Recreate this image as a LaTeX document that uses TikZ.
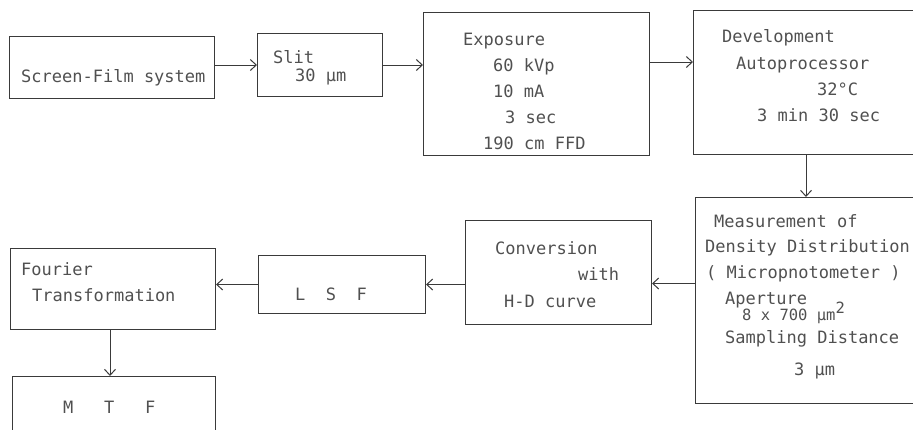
\documentclass[tikz,border=0pt]{standalone}
\usepackage{fontspec}
\setmonofont{DejaVu Sans Mono}
\usetikzlibrary{arrows.meta}
\definecolor{ink}{HTML}{3A3A3A}
\definecolor{txt}{HTML}{505050}
\begin{document}
\begin{tikzpicture}[x=1pt,y=-1pt,
  box/.style={draw=ink,line width=1pt,inner sep=0pt,anchor=north west},
  lbl/.style={anchor=base west,inner sep=0pt,text=txt,font=\ttfamily\fontsize{17}{20}\selectfont},
  arr/.style={draw=ink,line width=1pt,-{Straight Barb[length=6pt,width=11pt]}}]
\useasboundingbox (0,0) rectangle (913,429);
\clip (0,0) rectangle (913,429);
% boxes
\node[box,minimum width=205pt,minimum height=62pt] (sfs) at (9,36) {};
\node[box,minimum width=125pt,minimum height=63pt] (slit) at (257,33) {};
\node[box,minimum width=226pt,minimum height=143pt] (exp) at (423,12) {};
\node[box,minimum width=260pt,minimum height=144pt] (dev) at (693,10) {};
\node[box,minimum width=260pt,minimum height=206pt] (meas) at (695,197) {};
\node[box,minimum width=186pt,minimum height=104pt] (conv) at (465,220) {};
\node[box,minimum width=167pt,minimum height=58pt] (lsf) at (258,255) {};
\node[box,minimum width=205pt,minimum height=81pt] (four) at (10,248) {};
\node[box,minimum width=203pt,minimum height=80pt] (mtf) at (12,376) {};
% texts
\node[lbl] (t1) at (21,82) {Screen-Film system};
\node[lbl] (t2) at (273,63) {Slit};
\node[lbl] (t3) at (295,81) {30 µm};
\node[lbl] (t4) at (463,45) {Exposure};
\node[lbl] (t5) at (493,71) {60 kVp};
\node[lbl] (t6) at (493,97) {10 mA};
\node[lbl] (t7) at (505,123) {3 sec};
\node[lbl] (t8) at (483,149) {190 cm FFD};
\node[lbl] (t9) at (722,42) {Development};
\node[lbl] (t10) at (736,69) {Autoprocessor};
\node[lbl] (t11) at (817,95) {32°C};
\node[lbl] (t12) at (757,121) {3 min 30 sec};
\node[lbl] (t13) at (714,227) {Measurement of};
\node[lbl] (t14) at (705,252) {Density Distribution};
\node[lbl] (t15) at (706,278) {( Micropnotometer )};
\node[lbl] (t16) at (725,304) {Aperture};
\node[lbl,font=\ttfamily\fontsize{15.5}{18}\selectfont] (t17) at (742,320) {8 x 700 µm\raisebox{7pt}{2}};
\node[lbl] (t18) at (725,343) {Sampling Distance};
\node[lbl] (t19) at (794,375) {3 µm};
\node[lbl] (t20) at (495,254) {Conversion};
\node[lbl] (t21) at (578,280) {with};
\node[lbl] (t22) at (504,307) {H-D curve};
\node[lbl] (t23) at (295,300) {L~~S~~F};
\node[lbl] (t24) at (21,275) {Fourier};
\node[lbl] (t25) at (32,301) {Transformation};
\node[lbl] (t26) at (63,413) {M~~~T~~~F};
% connectors
\draw[arr] (slit.west -| sfs.east) -- (slit.west);
\draw[arr] (slit.east) -- (slit.east -| exp.west);
\coordinate (c3) at ([yshift=22pt]exp.east);
\draw[arr] (c3) -- (c3 -| dev.west);
\coordinate (c4) at ([xshift=113pt]dev.south west);
\draw[arr] (c4) -- (c4 |- meas.north);
\coordinate (c5) at ([yshift=-11pt]conv.east);
\draw[arr] (meas.west |- c5) -- (c5);
\draw[arr] (conv.west |- lsf.east) -- (lsf.east);
\draw[arr] (lsf.west) -- (lsf.west -| four.east);
\coordinate (c8) at ([xshift=-3pt]four.south);
\draw[arr] (c8) -- (c8 |- mtf.north);
\end{tikzpicture}
\end{document}
